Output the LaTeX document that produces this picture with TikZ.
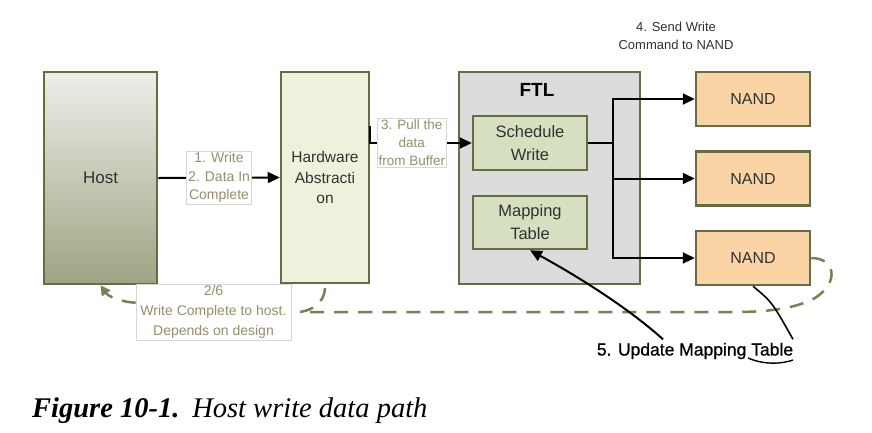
\documentclass[tikz,border=0pt]{standalone}
\usepackage{fontspec}
\setmainfont{Liberation Sans}
\newfontfamily\capfont{Liberation Serif}
\newfontfamily\semib[FakeBold=0.8]{Liberation Sans}
\usetikzlibrary{arrows.meta,calc}
\definecolor{boxline}{RGB}{100,110,66}
\definecolor{hosttop}{RGB}{236,238,232}
\definecolor{hostbot}{RGB}{158,164,130}
\definecolor{hafill}{RGB}{239,241,221}
\definecolor{ftlfill}{RGB}{220,220,220}
\definecolor{swfill}{RGB}{214,223,192}
\definecolor{nandfill}{RGB}{251,212,166}
\definecolor{lbltext}{RGB}{150,142,108}
\definecolor{lblline}{RGB}{215,215,215}
\definecolor{dashcol}{RGB}{120,128,86}
\definecolor{textdark}{RGB}{50,50,50}
\begin{document}
\begin{tikzpicture}[x=1pt,y=-1pt,
  box/.style={draw=boxline, line width=2.5pt, inner sep=0pt, text=textdark, align=center},
  lbl/.style={fill=white, draw=lblline, line width=0.6pt, text=lbltext, align=center, inner sep=1.5pt},
  arr/.style={line width=2pt, -{Triangle[length=12pt,width=11pt]}},
  retdash/.style={draw=dashcol, line width=2.5pt, dash pattern=on 14pt off 10pt}
]
\useasboundingbox[fill=white] (0,0) rectangle (872,432);

% boxes
\node[box, top color=hosttop, bottom color=hostbot, minimum width=113pt, minimum height=212pt,
      font=\fontsize{17}{20}\selectfont] (host) at (100.5,178) {Host};
\node[box, fill=hafill, minimum width=88pt, minimum height=211pt,
      font=\fontsize{15.5}{20.5}\selectfont] (ha) at (325,177.5) {Hardware\\Abstracti\\on};
\node[box, fill=ftlfill, minimum width=181pt, minimum height=212pt] (ftl) at (549.5,178) {};
\node[text=black, font=\fontsize{19}{22}\selectfont\bfseries] (ftlt) at (537,90) {FTL};
\node[box, fill=swfill, minimum width=114pt, minimum height=54pt,
      font=\fontsize{16.5}{23}\selectfont] (sw) at (530,143) {Schedule\\Write};
\node[box, fill=swfill, minimum width=114pt, minimum height=53pt,
      font=\fontsize{16.5}{23}\selectfont] (mt) at (530,222.5) {Mapping\\Table};
\node[box, fill=nandfill, minimum width=114pt, minimum height=54pt,
      font=\fontsize{16}{20}\selectfont] (n1) at (753,99) {NAND};
\node[box, fill=nandfill, minimum width=114pt, minimum height=54pt,
      font=\fontsize{16}{20}\selectfont] (n2) at (753,178.5) {NAND};
\node[box, fill=nandfill, minimum width=114pt, minimum height=54pt,
      font=\fontsize{16}{20}\selectfont] (n3) at (753,258) {NAND};

% host -> HA
\draw[arr] (host.east) -- node[lbl, font=\fontsize{14}{18.5}\selectfont, pos=0.5] (l12) {1. Write\\2. Data In\\Complete} (ha.west);

% HA -> schedule write
\coordinate (hatick) at ($(ha.east |- sw.west)+(0,-17)$);
\draw[arr] (hatick) -- (ha.east |- sw.west) -- node[lbl, font=\fontsize{13.5}{18}\selectfont, pos=0.41] (l3) {3. Pull the\\data\\from Buffer} (sw.west);

% schedule write -> NANDs
\coordinate (br) at (613,143);
\draw[line width=2.5pt] (sw.east) -- (br);
\draw[arr] (br) |- (n1.west);
\draw[arr] (br) -- (br |- n2.west) -- (n2.west);
\draw[arr] (br) |- (n3.west);
\node[text=textdark, align=center, font=\fontsize{13}{18}\selectfont] (l4) at (676,36) {4. Send Write\\Command to NAND};

% return dashed path
\draw[retdash] (n3.east) .. controls (835,258) and (840,282) .. (815,298)
   .. controls (795,309) and (765,312) .. (735,312) -- (300,312)
   .. controls (318,309) and (326,298) .. (ha.south);
\node[lbl, font=\fontsize{14}{20}\selectfont, minimum width=155pt] (l26) at (213.5,312) {2/6\\Write Complete to host.\\Depends on design};
\draw[retdash, -{Triangle[length=10pt,width=10pt]}] ($(l26.north west)+(0,19)$) .. controls (120,302) and (108,296) .. (host.south);

% update mapping table
\node[text=black, font=\semib\fontsize{17.5}{20}\selectfont] (l5) at (695,351) {5. Update Mapping Table};
\draw[arr] ([xshift=-32pt]l5.north) .. controls (625,305) and (570,272) .. (mt.south);
\draw[line width=1.6pt] (n3.south) .. controls (772,302) .. ([xshift=98pt]l5.north);
\draw[line width=1.4pt] (748,358) .. controls (764,365) and (782,364) .. (793,360);

% caption
\node[anchor=base west, inner sep=0pt, font=\capfont\fontsize{28.5}{32}\selectfont] (cap) at (32,417)
  {\textbf{\textit{Figure 10-1.}}\hspace{0.45em}\textit{Host write data path}};
\end{tikzpicture}
\end{document}
